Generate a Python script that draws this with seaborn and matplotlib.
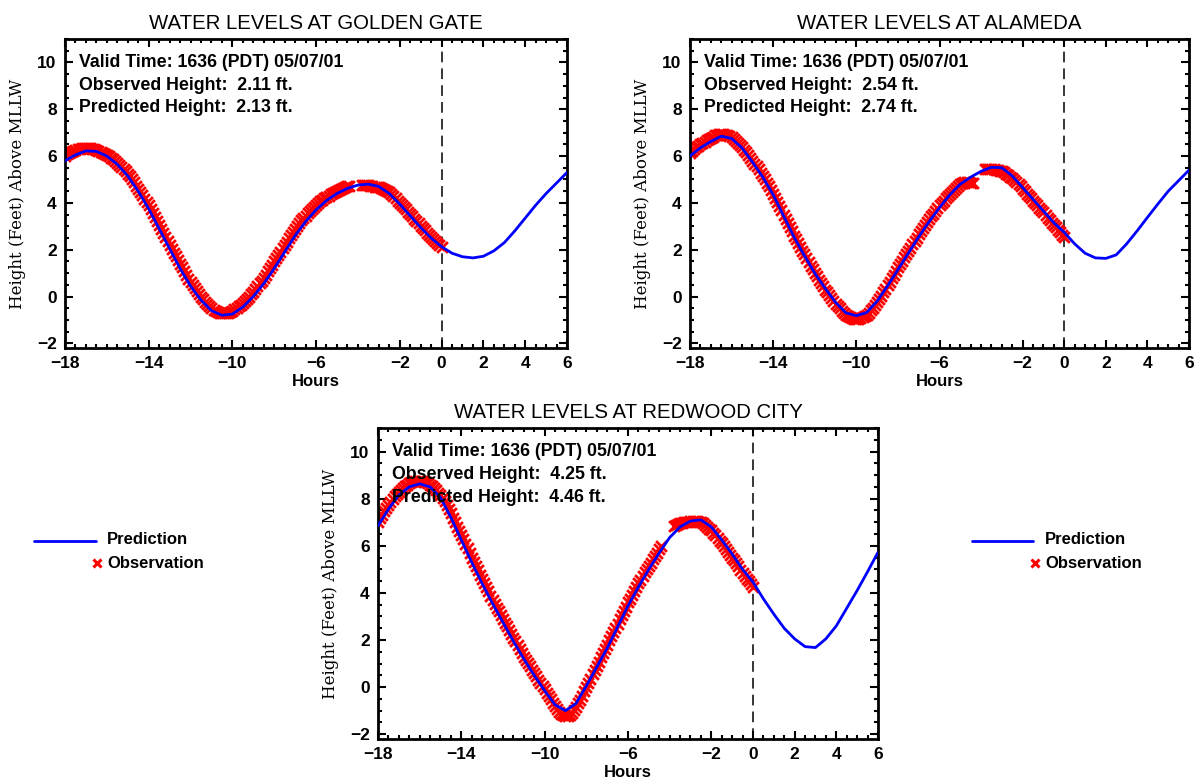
import numpy as np
import pandas as pd
import seaborn as sns
import matplotlib.pyplot as plt
from matplotlib.lines import Line2D
from matplotlib.ticker import MultipleLocator, FixedLocator

nan = np.nan

# hours for the prediction curve (every 30 min) and the observations (every 6 min)
pred_hours = np.arange(-18, 6.01, 0.5)
obs_hours = np.round(np.arange(-180, 1) / 10.0, 1)

# --- Golden Gate ---
gg_pred = [5.8, 6.05, 6.22, 6.2, 6.0, 5.65, 5.15, 4.5, 3.75, 2.9, 2.05, 1.2, 0.45,
           -0.15, -0.6, -0.8, -0.75, -0.45, 0.0, 0.55, 1.2, 1.9, 2.6, 3.2, 3.7, 4.1,
           4.4, 4.62, 4.76, 4.8, 4.7, 4.4, 3.95, 3.45, 2.95, 2.5, 2.13, 1.85, 1.7,
           1.65, 1.72, 1.95, 2.3, 2.8, 3.35, 3.9, 4.4, 4.85, 5.3]
gg_obs = [
    6.00, 6.07, 6.13, 6.18, 6.22, 6.26, 6.29, 6.31, 6.33, 6.34,   # -18
    6.35, 6.35, 6.34, 6.32, 6.30, 6.27, 6.23, 6.19, 6.15, 6.10,   # -17
    6.05, 5.99, 5.93, 5.86, 5.79, 5.72, 5.63, 5.54, 5.45, 5.35,   # -16
    5.25, 5.13, 5.01, 4.88, 4.74, 4.60, 4.46, 4.32, 4.18, 4.04,   # -15
    3.90, 3.74, 3.58, 3.41, 3.23, 3.05, 2.89, 2.73, 2.56, 2.38,   # -14
    2.20, 2.04, 1.88, 1.72, 1.56, 1.40, 1.24, 1.08, 0.92, 0.76,   # -13
    0.60, 0.48, 0.36, 0.24, 0.12, 0.00, -0.12, -0.24, -0.34, -0.42,  # -12
    -0.50, -0.56, -0.62, -0.66, -0.69, -0.72, -0.72, -0.71, -0.69, -0.66,  # -11
    -0.62, -0.55, -0.48, -0.41, -0.35, -0.28, -0.19, -0.10, 0.00, 0.10,  # -10
    0.20, 0.32, 0.44, 0.56, 0.68, 0.80, 0.94, 1.08, 1.22, 1.36,   # -9
    1.50, 1.64, 1.78, 1.92, 2.06, 2.20, 2.34, 2.48, 2.62, 2.76,   # -8
    2.90, 3.02, 3.14, 3.25, 3.35, 3.45, 3.55, 3.65, 3.74, 3.82,   # -7
    3.90, 3.98, 4.06, 4.13, 4.19, 4.25, 4.31, 4.37, 4.42, 4.46,   # -6
    4.50, 4.54, 4.58, 4.62, 4.66, 4.70, 4.73, nan, nan, nan,      # -5
    nan, nan, 4.78, 4.77, 4.76, 4.75, 4.73, 4.71, 4.69, 4.68,     # -4
    4.66, 4.63, 4.60, 4.56, 4.51, 4.45, 4.38, 4.29, 4.20, 4.10,   # -3
    4.00, 3.91, 3.82, 3.72, 3.62, 3.52, 3.42, 3.32, 3.22, 3.12,   # -2
    3.02, 2.92, 2.83, 2.73, 2.64, 2.55, 2.46, 2.37, 2.28, 2.19,   # -1
    2.11]

# --- Alameda ---
al_pred = [6.0, 6.35, 6.62, 6.85, 6.75, 6.35, 5.75, 5.1, 4.35, 3.45, 2.55, 1.75, 1.0,
           0.35, -0.25, -0.7, -0.82, -0.68, -0.2, 0.45, 1.15, 1.85, 2.55, 3.2, 3.8,
           4.35, 4.8, 5.1, 5.35, 5.52, 5.5, 5.15, 4.65, 4.15, 3.65, 3.15, 2.74, 2.25,
           1.85, 1.65, 1.63, 1.78, 2.25, 2.8, 3.38, 3.95, 4.5, 4.95, 5.4]
al_obs = [
    6.15, 6.23, 6.31, 6.38, 6.44, 6.50, 6.56, 6.62, 6.67, 6.73,   # -18
    6.78, 6.83, 6.88, 6.91, 6.94, 6.95, 6.94, 6.91, 6.88, 6.84,   # -17
    6.80, 6.73, 6.65, 6.57, 6.49, 6.40, 6.28, 6.16, 6.04, 5.92,   # -16
    5.80, 5.68, 5.56, 5.43, 5.29, 5.15, 5.01, 4.87, 4.72, 4.56,   # -15
    4.40, 4.22, 4.04, 3.86, 3.68, 3.50, 3.32, 3.14, 2.96, 2.78,   # -14
    2.60, 2.44, 2.28, 2.12, 1.96, 1.80, 1.64, 1.48, 1.32, 1.16,   # -13
    1.00, 0.86, 0.72, 0.58, 0.44, 0.30, 0.18, 0.06, -0.06, -0.18,  # -12
    -0.30, -0.40, -0.50, -0.60, -0.69, -0.78, -0.84, -0.89, -0.92, -0.94,  # -11
    -0.95, -0.94, -0.92, -0.88, -0.83, -0.78, -0.69, -0.59, -0.49, -0.37,  # -10
    -0.25, -0.11, 0.03, 0.18, 0.34, 0.50, 0.64, 0.78, 0.93, 1.09,  # -9
    1.25, 1.39, 1.53, 1.67, 1.81, 1.95, 2.09, 2.23, 2.37, 2.51,   # -8
    2.65, 2.79, 2.93, 3.06, 3.18, 3.30, 3.42, 3.54, 3.66, 3.78,   # -7
    3.90, 4.00, 4.10, 4.20, 4.30, 4.40, 4.48, 4.56, 4.64, 4.72,   # -6
    4.80, 4.84, 4.88, 4.90, 4.88, 4.86, 4.86, nan, nan, nan,      # -5
    nan, nan, 5.45, 5.46, 5.46, 5.45, 5.43, 5.41, 5.39, 5.37,     # -4
    5.35, 5.30, 5.24, 5.17, 5.11, 5.05, 4.97, 4.89, 4.80, 4.70,   # -3
    4.60, 4.50, 4.40, 4.30, 4.20, 4.10, 4.00, 3.90, 3.80, 3.70,   # -2
    3.60, 3.48, 3.36, 3.25, 3.15, 3.05, 2.95, 2.85, 2.74, 2.64,   # -1
    2.54]

# --- Redwood City ---
rc_pred = [6.85, 7.55, 8.15, 8.5, 8.63, 8.5, 8.05, 7.2, 6.25, 5.3, 4.4, 3.55, 2.75,
           1.95, 1.2, 0.5, -0.15, -0.75, -1.0, -0.7, 0.05, 0.85, 1.65, 2.55, 3.45,
           4.25, 5.0, 5.7, 6.35, 6.8, 7.05, 7.1, 6.8, 6.25, 5.65, 5.0, 4.46, 3.75,
           3.1, 2.5, 2.05, 1.72, 1.68, 2.05, 2.6, 3.35, 4.1, 4.9, 5.72]
rc_obs = [
    7.00, 7.16, 7.32, 7.47, 7.61, 7.75, 7.87, 7.99, 8.10, 8.20,   # -18
    8.30, 8.38, 8.46, 8.53, 8.59, 8.65, 8.69, 8.73, 8.75, 8.75,   # -17
    8.75, 8.74, 8.72, 8.69, 8.65, 8.60, 8.53, 8.45, 8.36, 8.26,   # -16
    8.15, 8.02, 7.88, 7.72, 7.56, 7.40, 7.20, 7.00, 6.81, 6.63,   # -15
    6.45, 6.27, 6.09, 5.90, 5.70, 5.50, 5.32, 5.14, 4.96, 4.78,   # -14
    4.60, 4.42, 4.24, 4.06, 3.88, 3.70, 3.54, 3.38, 3.22, 3.06,   # -13
    2.90, 2.74, 2.58, 2.42, 2.26, 2.10, 1.94, 1.78, 1.62, 1.46,   # -12
    1.30, 1.16, 1.02, 0.88, 0.74, 0.60, 0.46, 0.32, 0.18, 0.04,   # -11
    -0.10, -0.24, -0.38, -0.52, -0.66, -0.80, -0.92, -1.04, -1.13, -1.19,  # -10
    -1.22, -1.21, -1.17, -1.09, -0.97, -0.85, -0.69, -0.53, -0.36, -0.18,  # -9
    0.00, 0.18, 0.36, 0.54, 0.72, 0.90, 1.08, 1.26, 1.44, 1.62,   # -8
    1.80, 1.98, 2.16, 2.34, 2.52, 2.70, 2.88, 3.06, 3.24, 3.42,   # -7
    3.60, 3.76, 3.92, 4.08, 4.24, 4.40, 4.56, 4.72, 4.87, 5.01,   # -6
    5.15, 5.29, 5.43, 5.57, 5.71, 5.85, 5.98, nan, nan, nan,      # -5
    nan, nan, 6.82, 6.87, 6.92, 6.95, 6.97, 6.99, 7.01, 7.03,     # -4
    7.05, 7.05, 7.05, 7.04, 7.02, 7.00, 6.95, 6.88, 6.80, 6.73,   # -3
    6.65, 6.55, 6.45, 6.34, 6.22, 6.10, 5.98, 5.86, 5.74, 5.62,   # -2
    5.50, 5.38, 5.26, 5.13, 4.99, 4.85, 4.73, 4.61, 4.49, 4.37,   # -1
    4.25]

stations = ['GOLDEN GATE', 'ALAMEDA', 'REDWOOD CITY']
observed_now = ['2.11', '2.54', '4.25']
predicted_now = ['2.13', '2.74', '4.46']
valid_time = 'Valid Time: 1636 (PDT) 05/07/01'
xtick_vals = [-18, -14, -10, -6, -2, 0, 2, 4, 6]

sns.set_theme(style='ticks')
plt.rcParams['font.family'] = ['Liberation Sans', 'DejaVu Sans']
plt.rcParams.update({'text.color': 'black', 'axes.labelcolor': 'black',
                     'xtick.color': 'black', 'ytick.color': 'black',
                     'axes.titlecolor': 'black'})

fig = plt.figure(figsize=(11.95, 7.8), dpi=100)
positions = [
    [0.0544, 0.5538, 0.4201, 0.3962],
    [0.5774, 0.5538, 0.4176, 0.3962],
    [0.3163, 0.0526, 0.4184, 0.3987],
]
preds = [gg_pred, al_pred, rc_pred]
obss = [gg_obs, al_obs, rc_obs]

for i in range(3):
    ax = fig.add_axes(positions[i])
    df_pred = pd.DataFrame({'Hours': pred_hours, 'Height': preds[i]})
    df_obs = pd.DataFrame({'Hours': obs_hours, 'Height': obss[i]}).dropna()

    sns.scatterplot(data=df_obs, x='Hours', y='Height', ax=ax, marker='x',
                    color='#ff0000', s=60, linewidth=2.0, zorder=2)
    sns.lineplot(data=df_pred, x='Hours', y='Height', ax=ax, color='#0000ff',
                 linewidth=2.0, zorder=3)
    ax.axvline(0, color='black', linestyle=(0, (7, 4)), linewidth=1.1, zorder=1)

    ax.set_xlim(-18, 6)
    ax.set_ylim(-2.2, 11)
    ax.xaxis.set_major_locator(FixedLocator(xtick_vals))
    ax.xaxis.set_minor_locator(MultipleLocator(0.5))
    ax.set_yticks([-2, 0, 2, 4, 6, 8, 10])
    ax.yaxis.set_minor_locator(MultipleLocator(0.5))
    ax.tick_params(which='both', direction='in', top=True, right=True,
                   width=1.5, color='black')
    ax.tick_params(which='major', length=6, pad=6, labelsize=12.5)
    ax.tick_params(which='minor', length=3)
    for lab in ax.get_xticklabels() + ax.get_yticklabels():
        lab.set_fontweight('bold')
    for sp in ax.spines.values():
        sp.set_visible(True)
        sp.set_linewidth(2.0)
        sp.set_color('black')

    ax.set_title('WATER LEVELS AT ' + stations[i], fontsize=14.7, pad=7)
    ax.set_xlabel('Hours', fontsize=12, fontweight='bold', labelpad=2)
    ax.set_ylabel('Height (Feet) Above MLLW', fontsize=12,
                  family='DejaVu Serif', va='center')
    ax.yaxis.set_label_coords(-0.095, 0.5)

    info = [valid_time,
            'Observed Height:  ' + observed_now[i] + ' ft.',
            'Predicted Height:  ' + predicted_now[i] + ' ft.']
    for k, line in enumerate(info):
        ax.text(0.028, 0.925 - k * 0.074, line, transform=ax.transAxes,
                fontsize=12.8, fontweight='bold', va='center', ha='left', zorder=4)

# legends beside the bottom panel
W, H = 1195.0, 780.0
for (x0, x1, xm, xt) in [(34, 96, 97, 107), (972, 1033, 1035, 1045)]:
    fig.add_artist(Line2D([x0 / W, x1 / W], [1 - 541 / H, 1 - 541 / H],
                          color='#0000ff', linewidth=2.0))
    fig.add_artist(Line2D([xm / W], [1 - 563 / H], marker='x', color='#ff0000',
                          markersize=6, markeredgewidth=2.2, linestyle='none'))
    fig.text(xt / W, 1 - 540 / H, 'Prediction', fontsize=12, fontweight='bold',
             va='center', ha='left')
    fig.text(xt / W, 1 - 563 / H, 'Observation', fontsize=12, fontweight='bold',
             va='center', ha='left')

plt.savefig('out.png', dpi=100)
plt.close()
